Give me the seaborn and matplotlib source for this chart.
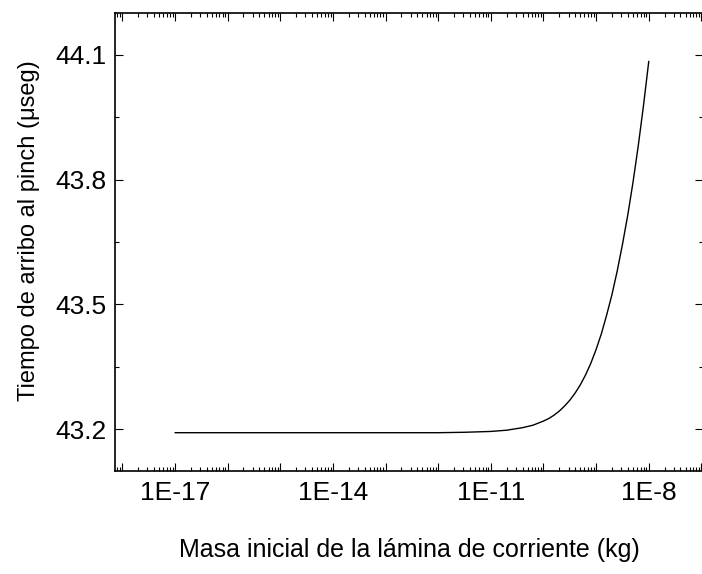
import numpy as np
import pandas as pd
import matplotlib
matplotlib.use("Agg")
import matplotlib.pyplot as plt
import matplotlib.ticker as mticker
import seaborn as sns

# Initial current-sheet mass (kg) and arrival time at the pinch (microseconds)
masa_kg = [1e-17, 1e-14, 1e-12, 3.16e-12, 1e-11, 2e-11, 3.98e-11, 6.31e-11,
           1e-10, 1.26e-10, 1.58e-10, 2e-10, 2.51e-10, 3.16e-10, 3.98e-10,
           5.01e-10, 6.31e-10, 7.94e-10, 1e-9, 1.26e-9, 1.58e-9, 2e-9,
           2.51e-9, 3.16e-9, 3.98e-9, 5.01e-9, 6.31e-9, 7.94e-9, 1e-8]
tiempo_us = [43.192, 43.192, 43.192, 43.193, 43.195, 43.198, 43.204, 43.210,
             43.220, 43.226, 43.234, 43.244, 43.256, 43.270, 43.287,
             43.307, 43.331, 43.359, 43.392, 43.430, 43.474, 43.524,
             43.580, 43.644, 43.714, 43.793, 43.881, 43.978, 44.084]

y_ticks = [43.2, 43.5, 43.8, 44.1]
x_label = "Masa inicial de la lámina de corriente (kg)"
y_label = "Tiempo de arribo al pinch (μseg)"

df = pd.DataFrame({"masa": masa_kg, "tiempo": tiempo_us})

sns.set_style("ticks")
plt.rcParams["font.family"] = ["Liberation Sans", "DejaVu Sans"]
plt.rcParams["text.color"] = "black"
plt.rcParams["axes.labelcolor"] = "black"

fig = plt.figure(figsize=(7.02, 5.74), dpi=100)
ax = fig.add_axes([115 / 702, 1 - 471 / 574, (703 - 115) / 702, (471 - 13) / 574])

sns.lineplot(data=df, x="masa", y="tiempo", ax=ax, color="black",
             linewidth=1.0, estimator=None, sort=False)

ax.set_xscale("log")
ax.set_xlim(10 ** -18.14, 10 ** -6.97)
ax.set_ylim(43.1, 44.2)

# decade ticks, labelled every third decade as 1E-n
ax.xaxis.set_major_locator(mticker.FixedLocator([10.0 ** e for e in range(-18, -6)]))
ax.xaxis.set_minor_locator(mticker.LogLocator(base=10, subs=np.arange(2, 10), numticks=50))


def fmt_dec(v, pos):
    e = int(round(np.log10(v)))
    return f"1E{e}" if e % 3 == 1 else ""


ax.xaxis.set_major_formatter(mticker.FuncFormatter(fmt_dec))
ax.xaxis.set_minor_formatter(mticker.NullFormatter())

ax.yaxis.set_major_locator(mticker.FixedLocator(y_ticks))
ax.yaxis.set_minor_locator(mticker.MultipleLocator(0.15))
ax.yaxis.set_major_formatter(mticker.FormatStrFormatter("%.1f"))

ax.tick_params(which="both", direction="in", top=True, right=True,
               width=0.8, colors="black", labelsize=19)
ax.tick_params(which="major", length=5.5)
ax.tick_params(axis="y", which="major", pad=6)
ax.tick_params(axis="x", which="major", pad=7)
ax.tick_params(which="minor", length=3)

for s in ax.spines.values():
    s.set_linewidth(1.2)
    s.set_color("black")
    s.set_visible(True)

ax.set_xlabel(x_label, fontsize=18, labelpad=24, color="black")
ax.set_ylabel(y_label, fontsize=17, color="black")
ax.yaxis.set_label_coords(-0.128, 0.524)

fig.savefig("out.png", dpi=100, facecolor="white")
